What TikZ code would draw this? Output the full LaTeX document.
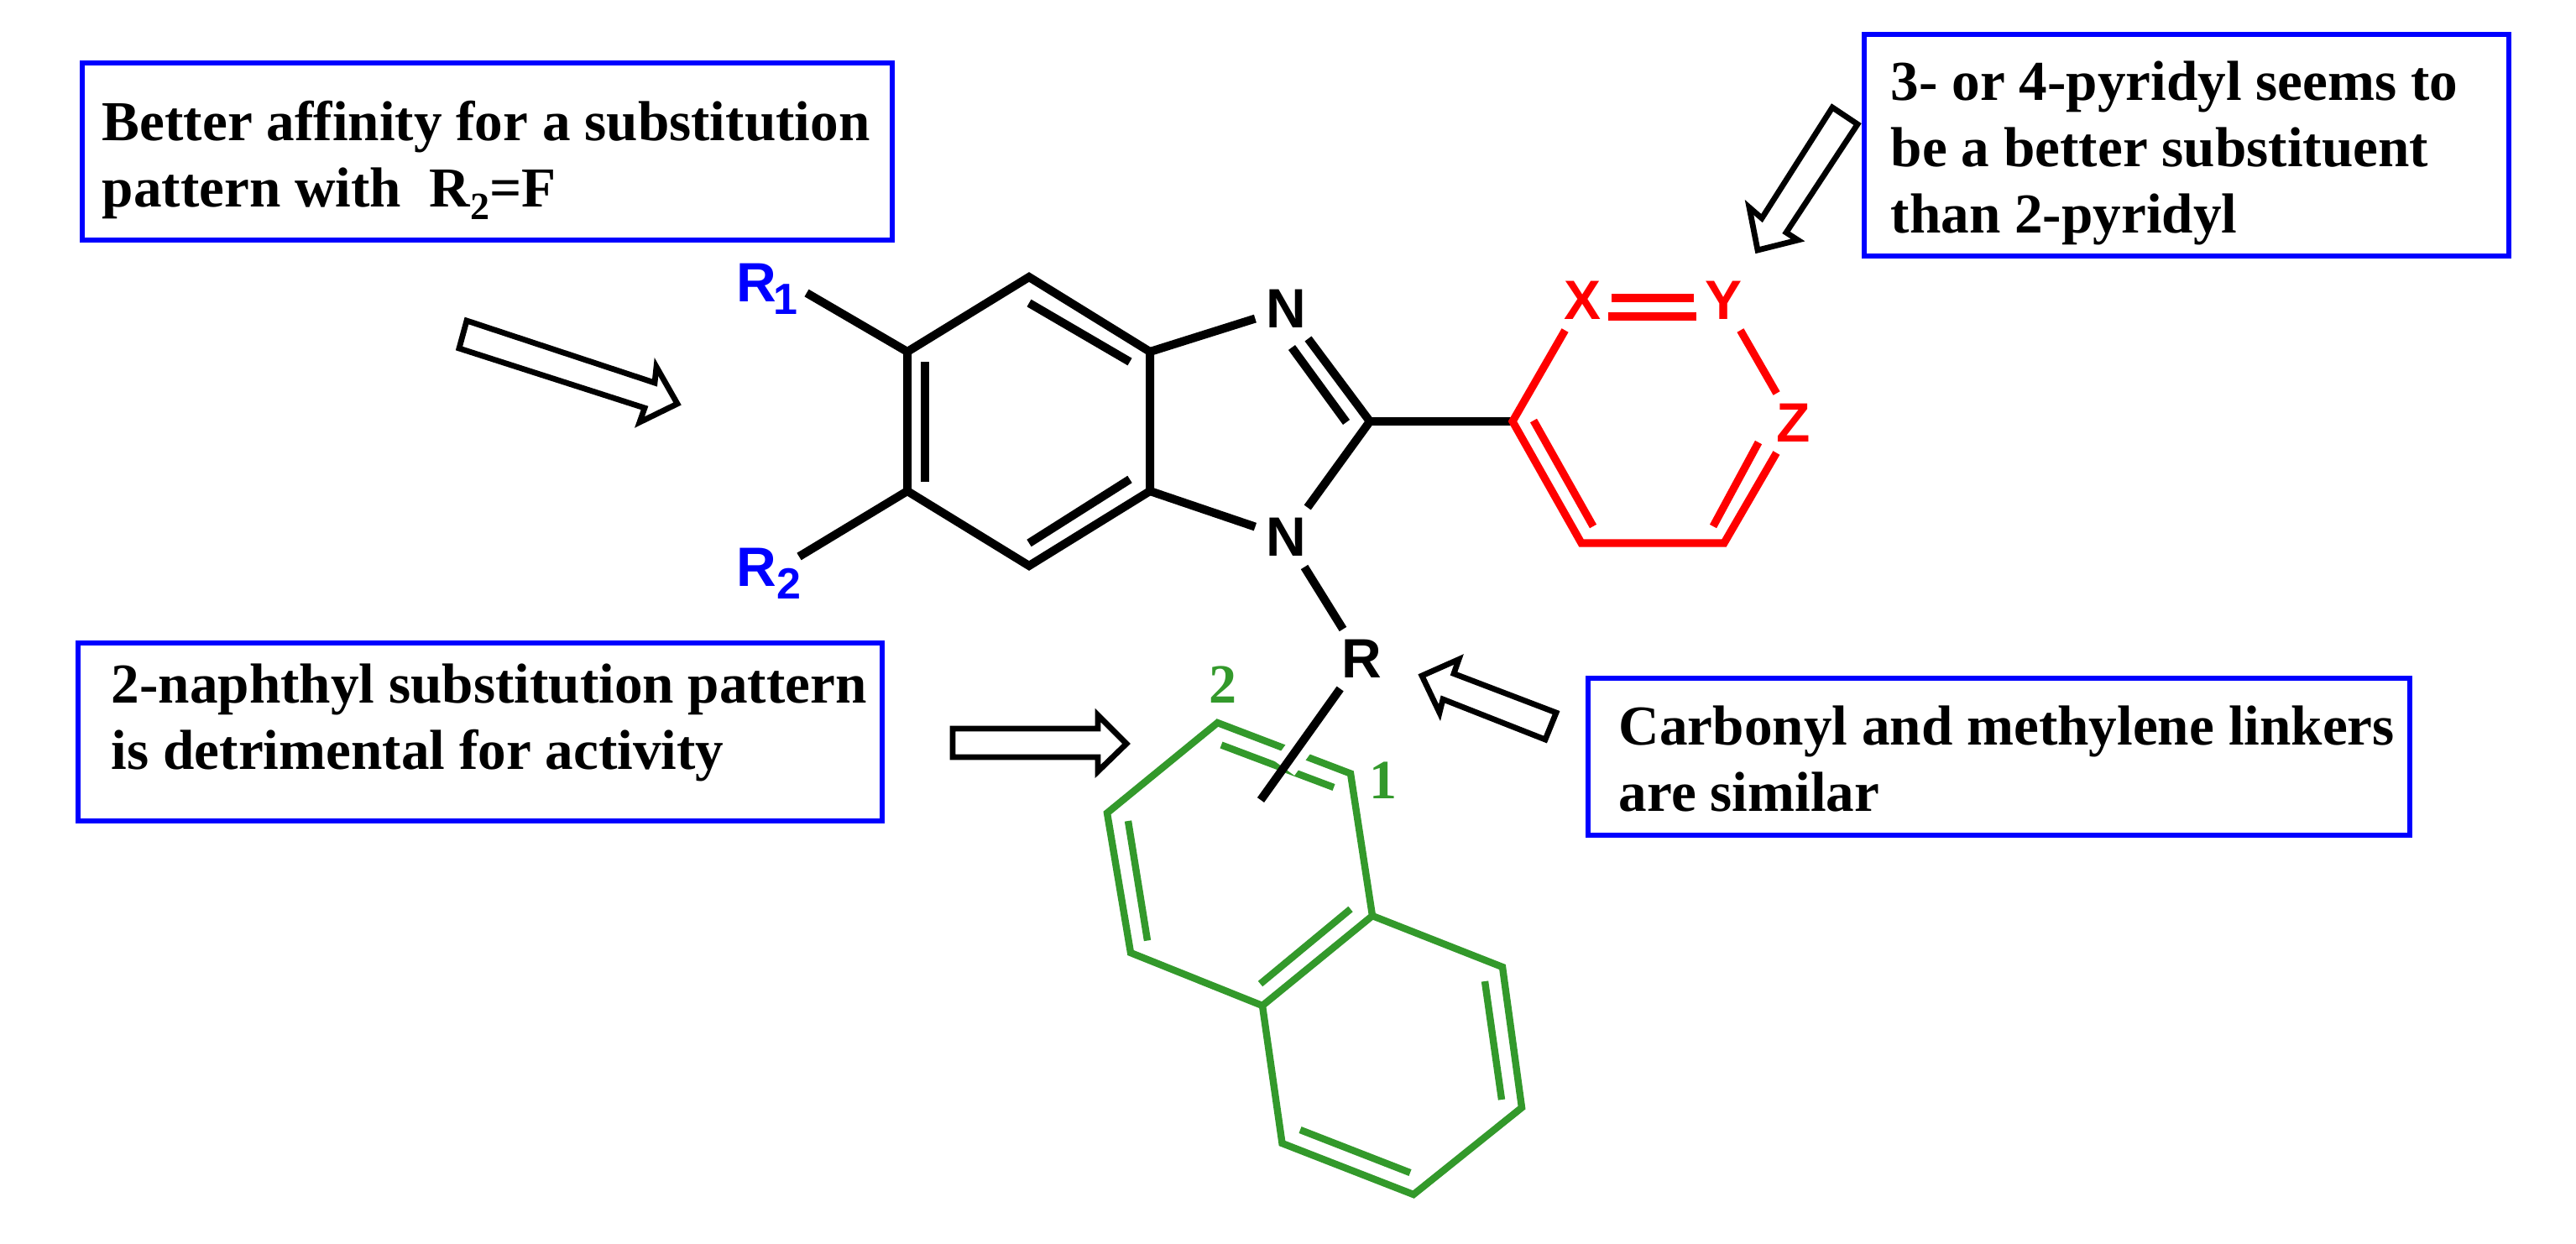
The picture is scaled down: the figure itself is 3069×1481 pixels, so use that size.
\documentclass[tikz,border=0pt]{standalone}
\usepackage{fontspec}
\setmainfont{Liberation Serif}[Ligatures=CommonOff]
\newfontfamily\atomfont{Liberation Sans}
\usepackage{color}
\definecolor{naphgreen}{RGB}{51,153,43}
\newcommand{\lowsub}[2]{\raisebox{-3.75pt}{\fontsize{#1}{#1}\selectfont #2}}
\tikzset{
	notebox/.style={draw=blue,line width=1.5pt,inner sep=0pt},
	notetext/.style={anchor=north west,inner sep=0pt,align=left,font=\fontsize{16.8pt}{19.75pt}\selectfont\bfseries},
	atom/.style={inner sep=3pt,font=\fontsize{16.5pt}{16.5pt}\selectfont\atomfont\bfseries},
	num/.style={inner sep=0pt,text=naphgreen,font=\fontsize{16.5pt}{16.5pt}\selectfont\bfseries},
	bond/.style={line width=2.5pt,line join=miter},
	redbond/.style={line width=2.3pt,line join=miter,draw=red},
	greenbond/.style={line width=2.1pt,draw=naphgreen,line join=miter},
	hollow/.style={draw=black,fill=white,line width=1.7pt,line join=miter}
}
\begin{document}
\begin{tikzpicture}[x=0.25pt,y=-0.25pt]
		\useasboundingbox (0,0) rectangle (3069,1481);
		% Cadres
		\node (boxaffinity) [notebox,minimum width=241.25pt,minimum height=52.75pt] at (580.5,180.5) {};
		\node (boxpyridyl) [notebox,minimum width=192pt,minimum height=66pt] at (2605,173) {};
		\node (boxnaphthyl) [notebox,minimum width=239.5pt,minimum height=53pt] at (572,872) {};
		\node (boxlinker) [notebox,minimum width=244.75pt,minimum height=46.75pt] at (2381.5,901.5) {};
		% Textes
		\node (textaffinity) [notetext] at (121,119) {Better affinity for a substitution\\pattern with\ \ R\lowsub{11.5pt}{2}=F};
		\node (textpyridyl) [notetext] at (2252,72) {3- or 4-pyridyl seems to\\be a better substituent\\than 2-pyridyl};
		\node (textnaphthyl) [notetext] at (132,790) {2-naphthyl substitution pattern\\is detrimental for activity};
		\node (textlinker) [notetext] at (1928,840) {Carbonyl and methylene linkers\\are similar};
		% Benzene
		\coordinate (cfive) at (1081,419);
		\coordinate (cfour) at (1226,330);
		\coordinate (cjtop) at (1370,419);
		\coordinate (cjbot) at (1370,585);
		\coordinate (cseven) at (1226,674);
		\coordinate (csix) at (1081,585);
		\draw [bond] (cfive) -- (cfour) -- (cjtop) -- (cjbot) -- (cseven) -- (csix) -- cycle;
		\draw [bond] (1102,431) -- (1102,574);
		\draw [bond] (1226,361) -- (1346,431);
		\draw [bond] (1346,571) -- (1226,647);
		% Substituants R1 et R2
		\node (rone) [atom,text=blue,anchor=base west,inner sep=0pt] at (877,359) {R\kern-1pt\lowsub{13pt}{1}};
		\node (rtwo) [atom,text=blue,anchor=base west,inner sep=0pt] at (877,698) {R\lowsub{13pt}{2}};
		\coordinate (roneend) at (961,349);
		\coordinate (rtwoend) at (952,663);
		\draw [bond] (roneend) -- (cfive);
		\draw [bond] (rtwoend) -- (csix);
		% Imidazole
		\node (nup) [atom] at (1532,368) {N};
		\node (nlow) [atom] at (1532,640) {N};
		\coordinate (ctwo) at (1632,502);
		\draw [bond] (cjtop) -- (nup);
		\draw [bond] (nup) -- (ctwo);
		\draw [bond] (1539,414) -- (1604,503);
		\draw [bond] (ctwo) -- (nlow);
		\draw [bond] (nlow) -- (cjbot);
		% Pyridyl en rouge
		\coordinate (pyone) at (1802,502);
		\coordinate (pytwo) at (1884,647);
		\coordinate (pythree) at (2054,647);
		\node (atomx) [atom,text=red] at (1885,358) {X};
		\node (atomy) [atom,text=red] at (2053,358) {Y};
		\node (atomz) [atom,text=red] at (2137,504) {Z};
		\draw [bond] (ctwo) -- (pyone);
		\draw [redbond] (atomx) -- (pyone) -- (pytwo) -- (pythree) -- (atomz);
		\draw [redbond] (atomy) -- (atomz);
		\draw [redbond] ([yshift=0.75pt]atomx.east) -- ([yshift=0.75pt]atomy.west);
		\draw [redbond] (1916,377) -- (2021,377);
		\draw [redbond] (1827,501) -- (1898,627);
		\draw [redbond] (2041,627) -- (2095,527);
		% Naphtyle en vert
		\coordinate (nptwo) at (1450.5,861);
		\coordinate (npone) at (1609,921.5);
		\coordinate (npjtop) at (1635,1091);
		\coordinate (npjbot) at (1504,1198);
		\coordinate (npfour) at (1347,1135);
		\coordinate (npthree) at (1319,968.5);
		\coordinate (npeight) at (1790,1152);
		\coordinate (npseven) at (1813,1319.5);
		\coordinate (npsix) at (1684,1423);
		\coordinate (npfive) at (1527.5,1362);
		\draw [greenbond] (nptwo) -- (npone) -- (npjtop) -- (npjbot) -- (npfour) -- (npthree) -- cycle;
		\draw [greenbond] (npjtop) -- (npeight) -- (npseven) -- (npsix) -- (npfive) -- (npjbot);
		\draw [greenbond] (1455,887.5) -- (1589,938);
		\draw [greenbond] (1344,978) -- (1367,1120.5);
		\draw [greenbond] (1609,1083) -- (1501.5,1172);
		\draw [greenbond] (1769,1169) -- (1789,1310);
		\draw [greenbond] (1549,1346) -- (1680,1397);
		\node (numone) [num] at (1648,930) {1};
		\node (numtwo) [num] at (1457,816) {2};
		% Lien R
		\node (atomr) [atom] at (1622,785) {R};
		\coordinate (rend) at (1502,953);
		\draw [bond] (nlow) -- (atomr);
		\draw [white,line width=7.5pt] (1570,860) -- (1530,915);
		\draw [bond] (atomr) -- (rend);
		% Fleches
		\draw [hollow] (556,382) -- (780,456) -- (782,437) -- (807,481) -- (762,503) -- (768,486) -- (547,415) -- cycle;
		\draw [hollow] (2183,128) -- (2213,148) -- (2128,277) -- (2142,286) -- (2094,298) -- (2084,247) -- (2099,260) -- cycle;
		\draw [hollow] (1135,868) -- (1308,868) -- (1308,852) -- (1342,886) -- (1308,919) -- (1308,902) -- (1135,902) -- cycle;
		\draw [hollow] (1694,805) -- (1738,785.5) -- (1732,802.5) -- (1854,849) -- (1841,881) -- (1719,833) -- (1715,849) -- cycle;
\end{tikzpicture}
\end{document}
